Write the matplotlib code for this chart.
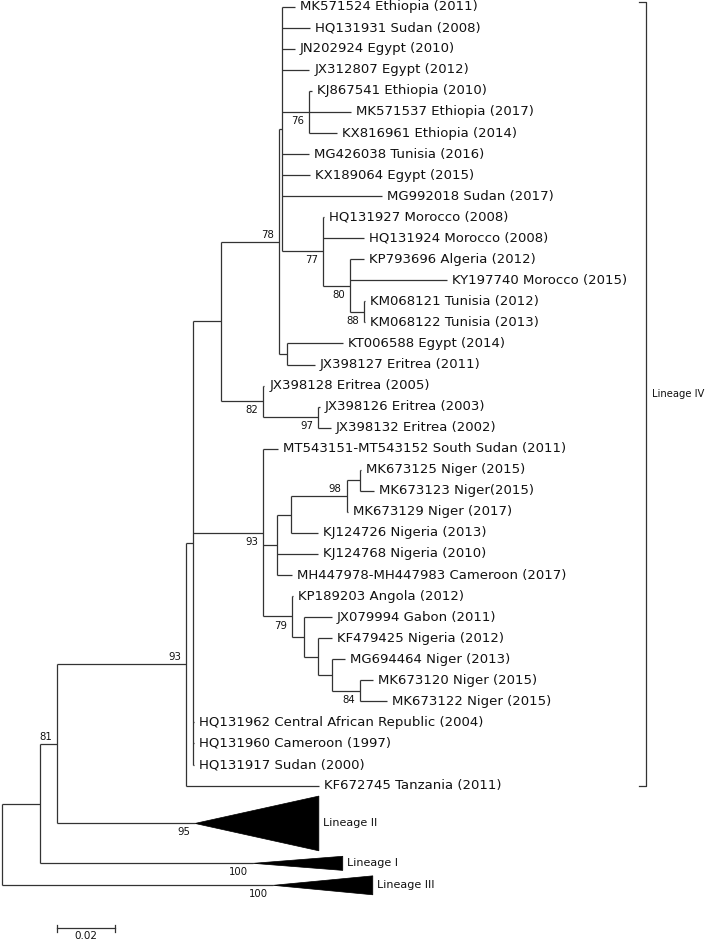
import matplotlib
matplotlib.use('Agg')
import matplotlib.pyplot as plt
from matplotlib.patches import Polygon

# taxa, top to bottom (row index = position in list)
leaf_names = [
    'MK571524 Ethiopia (2011)', 'HQ131931 Sudan (2008)', 'JN202924 Egypt (2010)', 'JX312807 Egypt (2012)',
    'KJ867541 Ethiopia (2010)', 'MK571537 Ethiopia (2017)', 'KX816961 Ethiopia (2014)', 'MG426038 Tunisia (2016)',
    'KX189064 Egypt (2015)', 'MG992018 Sudan (2017)', 'HQ131927 Morocco (2008)', 'HQ131924 Morocco (2008)',
    'KP793696 Algeria (2012)', 'KY197740 Morocco (2015)', 'KM068121 Tunisia (2012)', 'KM068122 Tunisia (2013)',
    'KT006588 Egypt (2014)', 'JX398127 Eritrea (2011)', 'JX398128 Eritrea (2005)', 'JX398126 Eritrea (2003)',
    'JX398132 Eritrea (2002)', 'MT543151-MT543152 South Sudan (2011)', 'MK673125 Niger (2015)', 'MK673123 Niger(2015)',
    'MK673129 Niger (2017)', 'KJ124726 Nigeria (2013)', 'KJ124768 Nigeria (2010)', 'MH447978-MH447983 Cameroon (2017)',
    'KP189203 Angola (2012)', 'JX079994 Gabon (2011)', 'KF479425 Nigeria (2012)', 'MG694464 Niger (2013)',
    'MK673120 Niger (2015)', 'MK673122 Niger (2015)', 'HQ131962 Central African Republic (2004)',
    'HQ131960 Cameroon (1997)', 'HQ131917 Sudan (2000)', 'KF672745 Tanzania (2011)']

# distance from root of each tip
leaf_depth = [0.1005, 0.1057, 0.1005, 0.1054, 0.1062, 0.1197, 0.1148, 0.1054,
              0.1057, 0.1303, 0.1105, 0.1242, 0.1242, 0.1527, 0.1245, 0.1245,
              0.1171, 0.1074, 0.0900, 0.1091, 0.1129, 0.0948, 0.1232, 0.1277,
              0.1186, 0.1085, 0.1085, 0.0995, 0.0998, 0.1131, 0.1131, 0.1177,
              0.1274, 0.1320, 0.0660, 0.0660, 0.0660, 0.1089]

# internal nodes: children are leaf indices, node names or collapsed clade names
node_names = ['root', 'n40', 'n57', 'nD', 'nP', 'nB', 'n78', 'nQ', 'n76', 'n77', 'n80', 'n88',
              'nKT', 'n82', 'n97', 'n93', 'nE', 'nG', 'n98', 'nH', 'n79', 'nF', 'nI', 'nJ', 'n84']
node_depth = [0.0, 0.0130, 0.0189, 0.0631, 0.0656, 0.0751, 0.0950, 0.0961, 0.1054, 0.1100, 0.1194, 0.1243,
              0.0977, 0.0896, 0.1085, 0.0896, 0.0942, 0.0990, 0.1182, 0.1228, 0.0994, 0.1036, 0.1085, 0.1131, 0.1228]
node_children = [
    ['n40', 'Lineage III'], ['n57', 'Lineage I'], ['nD', 'Lineage II'], ['nP', 37],
    ['nB', 'n93', 34, 35, 36], ['n78', 'n82'], ['nQ', 'nKT'], [0, 1, 2, 3, 'n76', 7, 8, 9, 'n77'],
    [4, 5, 6], [10, 11, 'n80'], [12, 13, 'n88'], [14, 15],
    [16, 17], [18, 'n97'], [19, 20], [21, 'nE', 'n79'], ['nG', 26, 27], ['n98', 25], ['nH', 24], [22, 23],
    [28, 'nF'], [29, 'nI'], [30, 'nJ'], [31, 'n84'], [32, 33]]
node_support = [None, None, 81, 93, None, None, 78, None, 76, 77, 80, 88,
                None, 82, 97, 93, None, None, 98, None, 79, None, None, None, 84]
support_above = ['n57', 'nD', 'n78', 'n98']

# collapsed lineages drawn as triangles
clade_names = ['Lineage II', 'Lineage I', 'Lineage III']
clade_apex = [0.0662, 0.0861, 0.0930]
clade_tip = [0.1087, 0.1169, 0.1272]
clade_height = [2.6, 0.67, 0.9]
clade_support = [95, 100, 100]

# pixel -> data helpers for the 709x941 canvas
PX_X = 2915.0
PX_Y = 21.05
x0 = -2 / PX_X
y0 = -6.7 / PX_Y

line_col = '#333333'
lw = 0.9

nodes = {n: (d, c, s) for n, d, c, s in zip(node_names, node_depth, node_children, node_support)}

clade_y = {}
top = len(leaf_names) - 1 + 0.5
for name, h in zip(clade_names, clade_height):
    clade_y[name] = top + h / 2
    top = top + h + 0.26


def ypos(k):
    if isinstance(k, int):
        return k
    if k in clade_y:
        return clade_y[k]
    ch = nodes[k][1]
    return (ypos(ch[0]) + ypos(ch[-1])) / 2


fig = plt.figure(figsize=(7.09, 9.41), dpi=100)
ax = fig.add_axes([0, 0, 1, 1])
ax.set_xlim(x0, x0 + 709 / PX_X)
ax.set_ylim(y0 + 941 / PX_Y, y0)
ax.axis('off')

dx = 5 / PX_X  # gap between a node and its label

for name in node_names:
    d, ch, sup = nodes[name]
    ys = [ypos(c) for c in ch]
    ax.plot([d, d], [ys[0], ys[-1]], color=line_col, lw=lw, solid_capstyle='butt')
    for c, yc in zip(ch, ys):
        if isinstance(c, int):
            ax.plot([d, leaf_depth[c]], [yc, yc], color=line_col, lw=lw, solid_capstyle='butt')
            ax.text(leaf_depth[c] + dx, yc, leaf_names[c], fontsize=9.5, va='center', ha='left',
                    color='#111111')
        elif c in clade_y:
            i = clade_names.index(c)
            ax.plot([d, clade_apex[i]], [yc, yc], color=line_col, lw=lw, solid_capstyle='butt')
            h = clade_height[i] / 2
            ax.add_patch(Polygon([[clade_apex[i], yc], [clade_tip[i], yc - h], [clade_tip[i], yc + h]],
                                 closed=True, facecolor='black', edgecolor='black', lw=0.5))
            ax.text(clade_tip[i] + 4 / PX_X, yc, c, fontsize=8, va='center', ha='left', color='#111111')
            ax.text(clade_apex[i] - dx, yc + 0.43, str(clade_support[i]), fontsize=7.3,
                    va='center', ha='right', color='#111111')
        else:
            ax.plot([d, nodes[c][0]], [yc, yc], color=line_col, lw=lw, solid_capstyle='butt')
    if sup is not None:
        yn = ypos(name)
        off = -0.33 if name in support_above else 0.43
        ax.text(d - dx, yn + off, str(sup), fontsize=7.3, va='center', ha='right', color='#111111')

# Lineage IV bracket
bx = 646 / PX_X + x0
btop, bbot = -0.22, len(leaf_names) - 1
tick = 7 / PX_X
ax.plot([bx - tick, bx, bx, bx - tick], [btop, btop, bbot, bbot], color=line_col, lw=lw)
ax.text(bx + 6 / PX_X, (btop + bbot) / 2, 'Lineage IV', fontsize=7.2, va='center', ha='left',
        color='#111111')

# scale bar
sb_x, sb_len, sb_y = 0.0188, 0.02, 43.78
ax.plot([sb_x, sb_x + sb_len], [sb_y, sb_y], color=line_col, lw=lw)
for xx in (sb_x, sb_x + sb_len):
    ax.plot([xx, xx], [sb_y - 0.17, sb_y + 0.17], color=line_col, lw=lw)
ax.text(sb_x + sb_len / 2, sb_y + 0.36, '0.02', fontsize=7.5, va='center', ha='center', color='#111111')

fig.savefig('out.png', dpi=100, facecolor='white')
